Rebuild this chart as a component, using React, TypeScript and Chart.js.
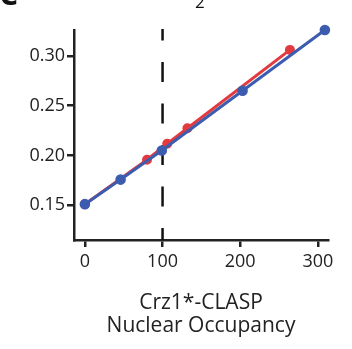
import React, { useEffect, useRef } from "react";
import { Chart, registerables } from "chart.js";

Chart.register(...registerables);

const blueX = [0, 46, 99, 203, 309];
const blueY = [0.151, 0.1757, 0.205, 0.265, 0.326];
const redX = [0, 80, 106, 132, 264];
const redY = [0.151, 0.1957, 0.2117, 0.2273, 0.306];
const dashX = [100, 100];
const dashY = [0.115, 0.327];
const xTicks = [0, 100, 200, 300];
const yTicks = [0.15, 0.2, 0.25, 0.3];
const xTitle = ["Crz1*-CLASP", "Nuclear Occupancy"];

const FONT = "'Open Sans', sans-serif";

export default function App() {
  const ref = useRef<HTMLCanvasElement | null>(null);
  useEffect(() => {
    if (!ref.current) return;
    const toPts = (xs: number[], ys: number[]) => xs.map((x, i) => ({ x, y: ys[i] }));
    const topText = {
      id: "topText",
      afterDraw(chart: any) {
        const ctx = chart.ctx;
        ctx.save();
        ctx.fillStyle = "#111";
        ctx.font = "bold 30px " + FONT;
        ctx.textBaseline = "alphabetic";
        ctx.fillText("C", -1, 5);
        ctx.font = "17px " + FONT;
        ctx.fillText("2", 195, 8);
        ctx.restore();
      },
    };
    const chart = new Chart(ref.current, {
      type: "line",
      data: {
        datasets: [
          {
            data: toPts(dashX, dashY),
            borderColor: "#111",
            borderWidth: 2.5,
            borderDash: [20, 21.5],
            borderDashOffset: 8,
            pointRadius: 0,
            order: 3,
          },
          {
            data: toPts(redX, redY),
            borderColor: "#e23a3f",
            backgroundColor: "#e23a3f",
            borderWidth: 3,
            pointRadius: 3.5,
            order: 2,
          },
          {
            data: toPts(blueX, blueY),
            borderColor: "#3c5cb0",
            backgroundColor: "#3c5cb0",
            borderWidth: 3,
            pointRadius: 3.8,
            order: 1,
          },
        ],
      },
      options: {
        animation: false,
        responsive: false,
        layout: { padding: { top: 30, right: 24, left: 0, bottom: 0 } },
        plugins: { legend: { display: false }, tooltip: { enabled: false } },
        elements: { line: { tension: 0 } },
        datasets: { line: { clip: false } } as any,
        scales: {
          x: {
            type: "linear",
            min: -14,
            max: 313,
            afterBuildTicks: (s: any) => {
              s.ticks = xTicks.map((v) => ({ value: v }));
            },
            afterFit: (s: any) => {
              s.height = 109;
            },
            border: { display: true, color: "#222", width: 2.5 },
            grid: { drawOnChartArea: false, drawTicks: true, tickLength: 7, color: "#222", lineWidth: 2.5 },
            ticks: { color: "#222", font: { family: FONT, size: 18 }, padding: 4 },
            title: {
              display: true,
              text: xTitle,
              color: "#222",
              font: { family: FONT, size: 21, lineHeight: 1.1 },
              padding: { top: 0, bottom: 11 },
            },
          },
          y: {
            type: "linear",
            min: 0.115,
            max: 0.326,
            afterBuildTicks: (s: any) => {
              s.ticks = yTicks.map((v) => ({ value: v }));
            },
            afterFit: (s: any) => {
              s.width = 74;
            },
            border: { display: true, color: "#222", width: 2.5 },
            grid: { drawOnChartArea: false, drawTicks: true, tickLength: 7, color: "#222", lineWidth: 2.5 },
            ticks: {
              color: "#222",
              font: { family: FONT, size: 18 },
              padding: 2,
              callback: (v: any) => Number(v).toFixed(2),
            },
          },
        },
      },
      plugins: [topText],
    });
    return () => chart.destroy();
  }, []);
  return (
    <div style={{ position: "fixed", left: 0, top: 0, width: 352, height: 349, background: "#fff" }}>
      <canvas ref={ref} width={352} height={349} style={{ width: 352, height: 349 }} />
    </div>
  );
}
